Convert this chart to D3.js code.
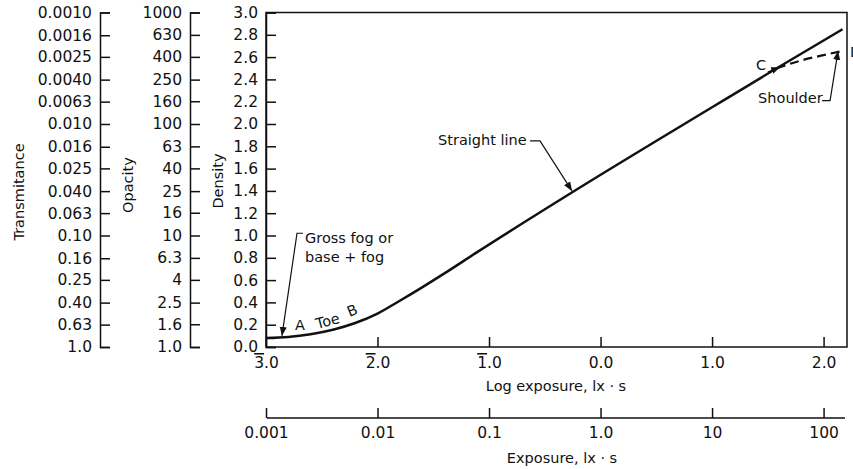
<!DOCTYPE html>
<html>
<head>
<meta charset="utf-8">
<script src="https://cdn.jsdelivr.net/npm/d3@7"></script>
<style>
  html, body { margin: 0; padding: 0; background: #fff; }
  svg { display: block; font-family: "DejaVu Sans", sans-serif; }
  .axis path, .axis line { stroke: #111; stroke-width: 1.5; }
  .axis text { font-family: "DejaVu Sans", sans-serif; font-size: 15.5px; fill: #111; }
  .lbl { font-size: 14.5px; fill: #111; }
</style>
</head>
<body>
<svg id="chart" width="853" height="469"></svg>
<script>
// characteristic curve (log exposure, density)
const logE    = [-3.0, -2.8, -2.6, -2.4, -2.2, -2.0, -1.8, -1.6, -1.4, -1.1, -0.25, 1.0, 1.58, 2.17];
const density = [0.08, 0.09, 0.115, 0.155, 0.215, 0.30, 0.415, 0.535, 0.66, 0.855, 1.39, 2.15, 2.50, 2.85];
// shoulder (dashed)
const shoulderLogE    = [1.58, 1.8, 2.0, 2.15];
const shoulderDensity = [2.50, 2.57, 2.618, 2.65];

const densityTicks = [0, 0.2, 0.4, 0.6, 0.8, 1.0, 1.2, 1.4, 1.6, 1.8, 2.0, 2.2, 2.4, 2.6, 2.8, 3.0];
const transTicks  = [0.001, 0.0016, 0.0025, 0.004, 0.0063, 0.01, 0.016, 0.025, 0.04, 0.063, 0.1, 0.16, 0.25, 0.4, 0.63, 1];
const transLabels = ['0.0010', '0.0016', '0.0025', '0.0040', '0.0063', '0.010', '0.016', '0.025', '0.040', '0.063', '0.10', '0.16', '0.25', '0.40', '0.63', '1.0'];
const opacTicks  = [1000, 630, 400, 250, 160, 100, 63, 40, 25, 16, 10, 6.3, 4, 2.5, 1.6, 1];
const opacLabels = ['1000', '630', '400', '250', '160', '100', '63', '40', '25', '16', '10', '6.3', '4', '2.5', '1.6', '1.0'];
const logETicks = [-3, -2, -1, 0, 1, 2];
const expTicks  = [0.001, 0.01, 0.1, 1, 10, 100];
const expLabels = ['0.001', '0.01', '0.1', '1.0', '10', '100'];

const svg = d3.select('#chart');

const x = d3.scaleLinear().domain([-3, 2.21]).range([266, 847]);
const y = d3.scaleLinear().domain([0, 3]).range([347, 12.5]);
const yTrans = d3.scaleLog().domain([1, 0.001]).range(y.range());
const yOpac  = d3.scaleLog().domain([1, 1000]).range(y.range());
const xExp   = d3.scaleLog().domain([10 ** x.domain()[0], 10 ** x.domain()[1]]).range(x.range());

// left hand scales: ticks point right, labels to the left
function leftAxis(scale, ticks, labels, xPos) {
  const ax = d3.axisLeft(scale).tickValues(ticks)
    .tickSizeInner(-10).tickSizeOuter(-10).tickPadding(8)
    .tickFormat((d, i) => labels[i]);
  return svg.append('g').attr('class', 'axis')
    .attr('transform', `translate(${xPos},0)`).call(ax)
    .call(g => g.select('.domain').attr('fill', 'none'));
}
leftAxis(yTrans, transTicks, transLabels, 100);
leftAxis(yOpac, opacTicks, opacLabels, 190);
leftAxis(y, densityTicks, densityTicks.map(d3.format('.1f')), 266);

// frame
svg.append('rect')
  .attr('x', x.range()[0]).attr('y', y(3))
  .attr('width', x.range()[1] - x.range()[0]).attr('height', y(0) - y(3))
  .attr('fill', 'none').attr('stroke', '#111').attr('stroke-width', 1.5);

// log exposure axis (bar notation for negative characteristics)
const gx = svg.append('g').attr('class', 'axis')
  .attr('transform', `translate(0,${y(0)})`)
  .call(d3.axisBottom(x).tickValues(logETicks).tickSizeInner(-10).tickSizeOuter(0).tickPadding(10).tickFormat(''));
gx.select('.domain').remove();
gx.selectAll('.tick text').each(function(d) {
  const t = d3.select(this);
  const bar = t.append('tspan').text(Math.abs(d));
  if (d < 0) bar.style('text-decoration', 'overline');
  t.append('tspan').text('.0');
});

// exposure axis
svg.append('g').attr('class', 'axis')
  .attr('transform', 'translate(0,418)')
  .call(d3.axisBottom(xExp).tickValues(expTicks).tickSizeInner(-10).tickSizeOuter(0).tickPadding(9)
    .tickFormat((d, i) => expLabels[i]))
  .call(g => g.select('.domain').attr('d', `M${x.range()[0] + 1},0H${x.range()[1] - 2}`));

// axis titles
svg.append('text').attr('class', 'lbl').attr('text-anchor', 'middle')
  .attr('transform', 'translate(24,192) rotate(-90)').text('Transmitance');
svg.append('text').attr('class', 'lbl').attr('text-anchor', 'middle')
  .attr('transform', 'translate(133,185) rotate(-90)').text('Opacity');
svg.append('text').attr('class', 'lbl').attr('text-anchor', 'middle')
  .attr('transform', 'translate(223,181) rotate(-90)').text('Density');
svg.append('text').attr('class', 'lbl').attr('text-anchor', 'middle')
  .attr('x', 556).attr('y', 391).text('Log exposure, lx \u00b7 s');
svg.append('text').attr('class', 'lbl').attr('text-anchor', 'middle')
  .attr('x', 562).attr('y', 463).text('Exposure, lx \u00b7 s');

// curves
const line = d3.line().x(d => x(d[0])).y(d => y(d[1])).curve(d3.curveMonotoneX);
svg.append('path').datum(d3.zip(logE, density))
  .attr('d', line).attr('fill', 'none').attr('stroke', '#111').attr('stroke-width', 2.5);
svg.append('path').datum(d3.zip(shoulderLogE, shoulderDensity))
  .attr('d', line).attr('fill', 'none').attr('stroke', '#111').attr('stroke-width', 2.2)
  .attr('stroke-dasharray', '9,5');

// annotations (positions in data units)
svg.append('defs').append('marker')
  .attr('id', 'arr').attr('viewBox', '0 0 10 10').attr('refX', 10).attr('refY', 5)
  .attr('markerWidth', 9).attr('markerHeight', 9).attr('markerUnits', 'userSpaceOnUse')
  .attr('orient', 'auto')
  .append('path').attr('d', 'M0,1L10,5L0,9Z').attr('fill', '#111');

const leaders = [
  [[-2.668, 1.02], [-2.722, 1.02], [-2.857, 0.10]],
  [[-0.632, 1.848], [-0.543, 1.848], [-0.256, 1.40]],
  [[1.987, 2.21], [2.058, 2.21], [2.13, 2.655]],
  [[1.50, 2.465], [1.61, 2.51]]
];
const leaderLine = d3.line().x(d => x(d[0])).y(d => y(d[1]));
svg.append('g').selectAll('path').data(leaders).join('path')
  .attr('d', leaderLine).attr('fill', 'none').attr('stroke', '#111').attr('stroke-width', 1.2)
  .attr('marker-end', 'url(#arr)');

const notes = [
  { t: 'Gross fog or', at: [-2.65, 0.933], a: 'start', r: 0 },
  { t: 'base + fog',   at: [-2.65, 0.762], a: 'start', r: 0 },
  { t: 'A',   at: [-2.695, 0.15], a: 'middle', r: 0 },
  { t: 'Toe', at: [-2.435, 0.19], a: 'middle', r: -15 },
  { t: 'B',   at: [-2.21, 0.285], a: 'middle', r: -22 },
  { t: 'Straight line', at: [-1.457, 1.81], a: 'start', r: 0 },
  { t: 'C',   at: [1.44, 2.484], a: 'middle', r: 0 },
  { t: 'Shoulder', at: [1.413, 2.19], a: 'start', r: 0 },
  { t: 'D',   at: [2.238, 2.60], a: 'start', r: 0 }
];
svg.append('g').selectAll('text').data(notes).join('text')
  .attr('class', 'lbl')
  .attr('text-anchor', d => d.a)
  .attr('transform', d => `translate(${x(d.at[0])},${y(d.at[1])}) rotate(${d.r})`)
  .text(d => d.t);
</script>
</body>
</html>
